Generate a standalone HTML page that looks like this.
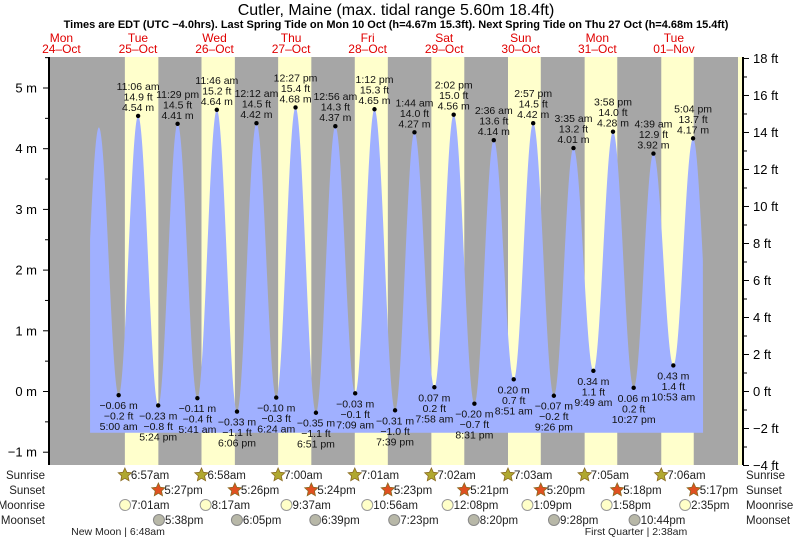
<!DOCTYPE html>
<html><head><meta charset="utf-8"><style>
body{margin:0;background:#fff;}
svg{display:block;font-family:"Liberation Sans",sans-serif;}
</style></head><body>
<svg id="c" width="793" height="539" viewBox="0 0 793 539">
<text x="396" y="15" text-anchor="middle" font-size="16">Cutler, Maine (max. tidal range 5.60m 18.4ft)</text>
<text x="396" y="28" text-anchor="middle" font-size="11" font-weight="bold">Times are EDT (UTC −4.0hrs). Last Spring Tide on Mon 10 Oct (h=4.67m 15.3ft). Next Spring Tide on Thu 27 Oct (h=4.68m 15.4ft)</text>
<g id="bg"></g><g id="tide"></g><g id="lab"></g><g id="axes"></g><g id="bottom"></g>
</svg>
<script>
// Data (hours from Oct 25 00:00, height m)
const dayNames=["Mon","Tue","Wed","Thu","Fri","Sat","Sun","Mon","Tue"];
const dayDates=["24–Oct","25–Oct","26–Oct","27–Oct","28–Oct","29–Oct","30–Oct","31–Oct","01–Nov"];
const extTimes=[-7.4,-1.2,5.0,11.1,17.4,23.48,29.68,35.77,42.1,48.2,54.4,60.45,66.85,72.93,79.15,85.2,91.65,97.73,103.97,110.03,116.52,122.6,128.85,134.95,141.43,147.58,153.82,159.97,166.45,172.65,178.88,185.07,191.3];
const extHeights=[-0.1,4.35,-0.06,4.54,-0.23,4.41,-0.11,4.64,-0.33,4.42,-0.10,4.68,-0.35,4.37,-0.03,4.65,-0.31,4.27,0.07,4.56,-0.20,4.14,0.20,4.42,-0.07,4.01,0.34,4.28,0.06,3.92,0.43,4.17,0.05];
const extLabels=[null,null,"5:00 am","11:06 am","5:24 pm","11:29 pm","5:41 am","11:46 am","6:06 pm","12:12 am","6:24 am","12:27 pm","6:51 pm","12:56 am","7:09 am","1:12 pm","7:39 pm","1:44 am","7:58 am","2:02 pm","8:31 pm","2:36 am","8:51 am","2:57 pm","9:26 pm","3:35 am","9:49 am","3:58 pm","10:27 pm","4:39 am","10:53 am","5:04 pm",null];
const sunrise=[6.95,6.97,7.0,7.02,7.03,7.05,7.08,7.1];
const sunriseL=["6:57am","6:58am","7:00am","7:01am","7:02am","7:03am","7:05am","7:06am"];
const sunset=[17.45,17.43,17.4,17.38,17.35,17.33,17.3,17.28];
const sunsetL=["5:27pm","5:26pm","5:24pm","5:23pm","5:21pm","5:20pm","5:18pm","5:17pm"];
const moonrise=[7.02,8.28,9.62,10.93,12.13,13.15,13.97,14.58];
const moonriseL=["7:01am","8:17am","9:37am","10:56am","12:08pm","1:09pm","1:58pm","2:35pm"];
const moonset=[17.63,18.08,18.65,19.38,20.33,21.47,22.73];
const moonsetL=["5:38pm","6:05pm","6:39pm","7:23pm","8:20pm","9:28pm","10:44pm"];
const mTicks=[-1,0,1,2,3,4,5];
const ftTicks=[-4,-2,0,2,4,6,8,10,12,14,16,18];

const NS="http://www.w3.org/2000/svg";
const X0=49,X1=738,Y0=57,Y1=465;
const xh=h=>102.7+h*3.19;
const ym=m=>391.5-m*60.7;
function mk(p,t,a,txt){const e=document.createElementNS(NS,t);for(const k in a)e.setAttribute(k,a[k]);if(txt!=null)e.textContent=txt;document.getElementById(p).appendChild(e);return e;}
let r=mk("bg","rect",{x:X0,y:Y0,width:X1-X0,height:Y1-Y0,fill:"#a6a6a6"});


for(let d=0;d<8;d++){
 const e=mk("bg","rect",{x:xh(d*24+sunrise[d]),y:Y0,width:xh(d*24+sunset[d])-xh(d*24+sunrise[d]),height:Y1-Y0,fill:"#ffffcc"});
 
 
}
r=mk("bg","rect",{x:X1,y:Y0,width:5,height:Y1-Y0,fill:"#ffffcc"});


dayNames.forEach((n,i)=>{
 const cx=xh((i-1)*24+12)-3;
 const t1=mk("lab","text",{x:cx,y:42,"text-anchor":"middle","font-size":12,fill:"#e00000"},n);
 
 
 const t2=mk("lab","text",{x:cx,y:53,"text-anchor":"middle","font-size":12,fill:"#e00000"},dayDates[i]);
 
 
});
const tStart=-3.96,tEnd=188.2,base=ym(-0.68);
let d="M"+xh(tStart)+","+base;
for(let t=tStart;t<=tEnd;t+=0.1){
 let i=0;while(i<extTimes.length-2&&extTimes[i+1]<t)i++;
 const t0=extTimes[i],t1=extTimes[i+1],h0=extHeights[i],h1=extHeights[i+1];
 const f=(t-t0)/(t1-t0);
 const h=h0+(h1-h0)*(1-Math.cos(Math.PI*f))/2;
 d+=" L"+xh(t).toFixed(2)+","+ym(h).toFixed(2);
}
d+=" L"+xh(tEnd)+","+base+" Z";
const tp=mk("tide","path",{d:d,fill:"#a0b0ff"});


extTimes.forEach((t,i)=>{
 if(!extLabels[i])return;
 const x=xh(t),y=ym(extHeights[i]),hi=extHeights[i]>2;
 const dot=mk("lab","circle",{cx:x,cy:y,r:2.2,fill:"#000"});
 
 
 const m=extHeights[i].toFixed(2).replace("-","−")+" m";
 const ft=(extHeights[i]*3.2808).toFixed(1).replace("-","−")+" ft";
 const lines=hi?[extLabels[i],ft,m]:[m,ft,extLabels[i]];
 lines.forEach((s,k)=>{
  const yy=hi?y-26+k*10.5:y+14+k*10.5;
  const tt=mk("lab","text",{x:x,y:yy,"text-anchor":"middle","font-size":10.5,fill:"#111"},s);
  
  
 });
});
let a=mk("axes","line",{x1:X0,y1:Y0,x2:X0,y2:Y1,stroke:"#000","stroke-width":2});


a=mk("axes","line",{x1:743,y1:Y0,x2:743,y2:Y1,stroke:"#000","stroke-width":2});


for(let v=-1;v<=5.5;v+=0.5){mk("axes","line",{x1:Number.isInteger(v)?43:45,y1:ym(v),x2:X0,y2:ym(v),stroke:"#000"});}
mTicks.forEach(v=>{
 const t=mk("axes","text",{x:37,y:ym(v)+4.5,"text-anchor":"end","font-size":13},(v<0?"−"+(-v):v)+" m");
 
 
});
for(let f=-4;f<=18;f++){const y=ym(f/3.2808);mk("axes","line",{x1:743,y1:y,x2:f%2?747:749,y2:y,stroke:"#000"});}
ftTicks.forEach(f=>{
 const t=mk("axes","text",{x:753,y:ym(f/3.2808)+4.5,"font-size":13},(f<0?"−"+(-f):f)+" ft");
 
 
});
const rows=[["Sunrise",479],["Sunset",494],["Moonrise",509],["Moonset",524]];
rows.forEach(([n,y])=>{
 const l=mk("bottom","text",{x:45,y:y,"text-anchor":"end","font-size":11.5,fill:"#222"},n);
 
 
 const rr=mk("bottom","text",{x:746,y:y,"font-size":11.5,fill:"#222"},n);
 
 
});
function star(cx,cy,fill){let p="";for(let k=0;k<10;k++){const ang=-Math.PI/2+k*Math.PI/5,rad=k%2?3.3:7;p+=(cx+rad*Math.cos(ang)).toFixed(1)+","+(cy+rad*Math.sin(ang)).toFixed(1)+" ";}return mk("bottom","polygon",{points:p,fill:fill,stroke:"#8a6a20","stroke-width":0.8});}
for(let i=0;i<8;i++){
 let x=xh(i*24+sunrise[i]);
 let s=star(x,475,"#b0a830");
 let t=mk("bottom","text",{x:x+6,y:479,"font-size":11.5,fill:"#222"},sunriseL[i]);
 x=xh(i*24+sunset[i]);
 s=star(x,490,"#e05020");
 t=mk("bottom","text",{x:x+6,y:494,"font-size":11.5,fill:"#222"},sunsetL[i]);
 x=xh(i*24+moonrise[i]);
 s=mk("bottom","circle",{cx:x,cy:505,r:5.5,fill:"#ffffc8",stroke:"#999"});
 t=mk("bottom","text",{x:x+6,y:509,"font-size":11.5,fill:"#222"},moonriseL[i]);
 if(i<7){
  x=xh(i*24+moonset[i]);
  s=mk("bottom","circle",{cx:x,cy:520,r:5.5,fill:"#b8b8a8",stroke:"#888"});
  t=mk("bottom","text",{x:x+6,y:524,"font-size":11.5,fill:"#222"},moonsetL[i]);
 }
}
let ph=mk("bottom","text",{x:118,y:535,"text-anchor":"middle","font-size":10.5,fill:"#222"},"New Moon | 6:48am");

ph=mk("bottom","text",{x:636,y:535,"text-anchor":"middle","font-size":10.5,fill:"#222"},"First Quarter | 2:38am");

</script>
</body></html>
